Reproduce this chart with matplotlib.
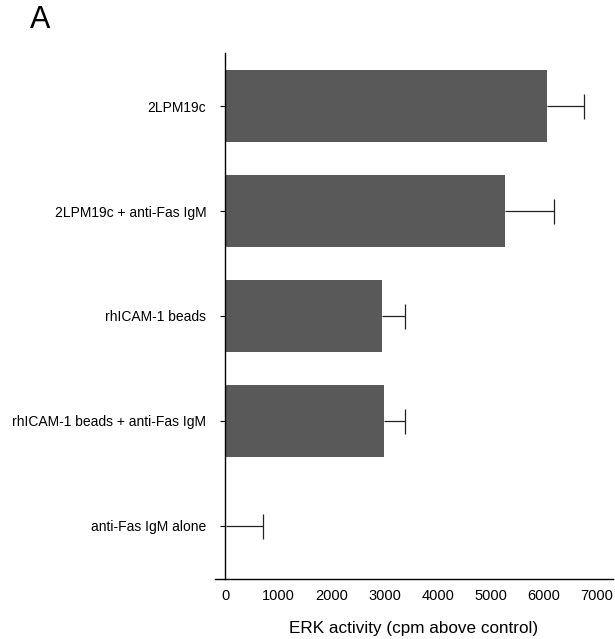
import numpy as np
import matplotlib
matplotlib.use("Agg")
import matplotlib.pyplot as plt

# values (cpm above control)
conditions = ['2LPM19c', '2LPM19c + anti-Fas IgM', 'rhICAM-1 beads',
              'rhICAM-1 beads + anti-Fas IgM', 'anti-Fas IgM alone']
erk_activity = [6060, 5270, 2960, 3000, 25]
erk_err = [690, 920, 425, 390, 680]
x_ticks = [0, 1000, 2000, 3000, 4000, 5000, 6000, 7000]

plt.rcParams['font.family'] = ['Liberation Sans', 'DejaVu Sans']

fig = plt.figure(figsize=(6.15, 6.39), dpi=100)
ax = fig.add_axes([0.3496, 0.094, 0.647, 0.823])

ypos = np.arange(len(conditions))
ax.barh(ypos, erk_activity, height=0.686, color='#595959', edgecolor='none')
# one-sided error bars, cap only at the outer end
_, caps, _ = ax.errorbar(erk_activity, ypos, xerr=[np.zeros(len(erk_err)), erk_err],
                         fmt='none', ecolor='#222222', elinewidth=0.9,
                         capsize=9, capthick=0.9)
caps[0].set_visible(False)

ax.set_ylim(4.505, -0.505)
ax.set_xlim(-190, 7300)
ax.set_yticks(ypos)
ax.set_yticklabels(conditions, fontsize=10.5)
ax.set_xticks(x_ticks)
ax.set_xticklabels([str(t) for t in x_ticks], fontsize=10.5)
ax.tick_params(axis='y', length=3.5, width=0.8, pad=10)
ax.tick_params(axis='x', length=0, pad=7)

ax.spines['top'].set_visible(False)
ax.spines['right'].set_visible(False)
ax.spines['left'].set_position(('data', 0))
ax.spines['left'].set_linewidth(1.0)
ax.spines['bottom'].set_linewidth(1.0)

ax.set_xlabel('ERK activity (cpm above control)', fontsize=12.3, labelpad=13)

fig.text(0.048, 0.968, 'A', fontsize=22, va='center', ha='left')

fig.savefig('out.png', dpi=100)
plt.close()
